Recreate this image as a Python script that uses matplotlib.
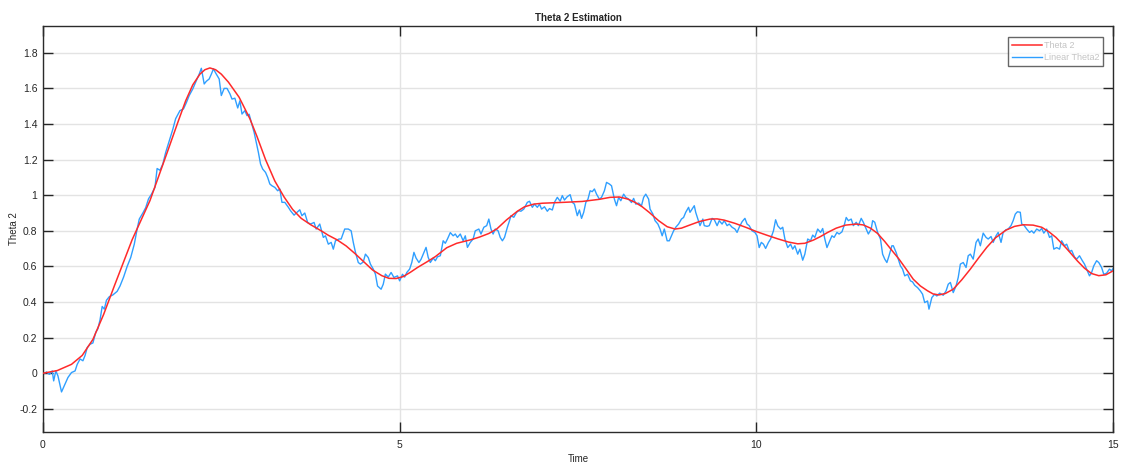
#!/usr/bin/env python3
"""Theta 2 estimation: nonlinear model vs. linearised model over time."""

import matplotlib

matplotlib.use("Agg")
import matplotlib.pyplot as plt

# Nonlinear response (smooth)
theta2_t = [0.0, 0.2, 0.4, 0.55, 0.7, 0.85, 1.0, 1.25, 1.5, 1.75, 1.9, 2.0,
            2.1, 2.2, 2.27, 2.34, 2.42, 2.5, 2.6, 2.75, 2.9, 3.0, 3.12, 3.25,
            3.38, 3.5, 3.62, 3.75, 3.9, 4.0, 4.12, 4.25, 4.38, 4.5, 4.62, 4.75,
            4.85, 4.95, 5.05, 5.15, 5.25, 5.38, 5.5, 5.66, 5.8, 6.0, 6.12, 6.25,
            6.36, 6.5, 6.65, 6.75, 6.88, 7.0, 7.3, 7.56, 7.8, 7.95, 8.08, 8.2,
            8.3, 8.4, 8.5, 8.63, 8.75, 8.86, 8.95, 9.05, 9.2, 9.35, 9.45, 9.55,
            9.7, 9.85, 10.0, 10.15, 10.3, 10.45, 10.58, 10.68, 10.8, 10.9, 11.0,
            11.12, 11.25, 11.4, 11.5, 11.6, 11.7, 11.8, 11.9, 12.0, 12.1, 12.2,
            12.3, 12.4, 12.48, 12.56, 12.65, 12.76, 12.88, 13.0, 13.12, 13.23,
            13.35, 13.5, 13.62, 13.74, 13.88, 14.0, 14.1, 14.2, 14.35, 14.5,
            14.6, 14.7, 14.8, 14.9, 15.0]
theta2_v = [0.0, 0.015, 0.05, 0.1, 0.19, 0.33, 0.49, 0.75, 0.97, 1.25, 1.42, 1.53,
            1.62, 1.68, 1.705, 1.715, 1.705, 1.68, 1.635, 1.55, 1.43, 1.33, 1.2, 1.08,
            0.99, 0.92, 0.87, 0.835, 0.8, 0.775, 0.75, 0.715, 0.67, 0.625, 0.58, 0.548,
            0.533, 0.532, 0.543, 0.567, 0.594, 0.625, 0.655, 0.705, 0.73, 0.75, 0.765, 0.785,
            0.81, 0.862, 0.91, 0.935, 0.95, 0.955, 0.96, 0.965, 0.977, 0.988, 0.99, 0.978,
            0.96, 0.935, 0.903, 0.857, 0.823, 0.81, 0.815, 0.83, 0.852, 0.866, 0.867, 0.86,
            0.842, 0.82, 0.796, 0.775, 0.755, 0.737, 0.727, 0.73, 0.748, 0.768, 0.791,
            0.815, 0.832, 0.838, 0.833, 0.815, 0.785, 0.74, 0.69, 0.641, 0.585, 0.528,
            0.49, 0.463, 0.445, 0.44, 0.448, 0.472, 0.525, 0.585, 0.65, 0.707,
            0.76, 0.804, 0.825, 0.834, 0.832, 0.82, 0.795, 0.763, 0.7, 0.631,
            0.59, 0.56, 0.548, 0.553, 0.575]

# Linearised estimate (noisy)
linear_t = [0.0, 0.05, 0.09, 0.13, 0.15, 0.18, 0.21, 0.26, 0.31, 0.35, 0.4, 0.45,
            0.48, 0.52, 0.56, 0.59, 0.62, 0.66, 0.7, 0.74, 0.77, 0.8, 0.83, 0.86,
            0.89, 0.93, 0.98, 1.04, 1.08, 1.13, 1.18, 1.23, 1.28, 1.32, 1.35, 1.4,
            1.44, 1.48, 1.52, 1.57, 1.6, 1.64, 1.68, 1.72, 1.77, 1.82, 1.86, 1.92,
            1.97, 2.01, 2.05, 2.1, 2.15, 2.19, 2.22, 2.26, 2.29, 2.33, 2.36, 2.39,
            2.42, 2.47, 2.5, 2.54, 2.58, 2.62, 2.65, 2.69, 2.73, 2.76, 2.79, 2.83,
            2.86, 2.89, 2.92, 2.96, 2.99, 3.02, 3.05, 3.08, 3.12, 3.15, 3.18, 3.21,
            3.25, 3.29, 3.32, 3.35, 3.39, 3.44, 3.47, 3.52, 3.55, 3.6, 3.63, 3.67,
            3.71, 3.75, 3.8, 3.83, 3.88, 3.93, 3.96, 4.0, 4.04, 4.07, 4.1, 4.15,
            4.18, 4.23, 4.28, 4.32, 4.35, 4.38, 4.42, 4.45, 4.49, 4.52, 4.56, 4.59,
            4.63, 4.66, 4.69, 4.74, 4.77, 4.8, 4.84, 4.88, 4.92, 4.97, 5.0, 5.04,
            5.07, 5.1, 5.14, 5.17, 5.2, 5.23, 5.27, 5.3, 5.34, 5.37, 5.4, 5.43,
            5.47, 5.5, 5.53, 5.57, 5.61, 5.64, 5.67, 5.71, 5.75, 5.78, 5.81, 5.85,
            5.89, 5.92, 5.95, 5.99, 6.03, 6.06, 6.11, 6.14, 6.18, 6.22, 6.25, 6.28,
            6.31, 6.34, 6.38, 6.41, 6.44, 6.47, 6.51, 6.54, 6.56, 6.6, 6.64, 6.67,
            6.7, 6.74, 6.79, 6.82, 6.86, 6.89, 6.93, 6.96, 6.99, 7.03, 7.07, 7.1,
            7.14, 7.17, 7.21, 7.25, 7.28, 7.31, 7.35, 7.39, 7.42, 7.45, 7.49, 7.52,
            7.55, 7.58, 7.61, 7.64, 7.67, 7.7, 7.73, 7.76, 7.8, 7.83, 7.87, 7.9,
            7.94, 7.97, 8.01, 8.04, 8.07, 8.1, 8.14, 8.17, 8.21, 8.25, 8.28, 8.31,
            8.35, 8.39, 8.42, 8.45, 8.49, 8.51, 8.55, 8.58, 8.62, 8.65, 8.68, 8.71,
            8.75, 8.78, 8.81, 8.84, 8.87, 8.91, 8.95, 8.98, 9.01, 9.05, 9.07, 9.1,
            9.13, 9.15, 9.18, 9.21, 9.25, 9.27, 9.31, 9.34, 9.38, 9.41, 9.45, 9.48,
            9.52, 9.55, 9.59, 9.62, 9.66, 9.7, 9.73, 9.76, 9.8, 9.84, 9.87, 9.9,
            9.94, 9.98, 10.01, 10.04, 10.07, 10.1, 10.13, 10.17, 10.2, 10.24, 10.27,
            10.3, 10.34, 10.37, 10.4, 10.44, 10.48, 10.51, 10.54, 10.58, 10.61,
            10.65, 10.68, 10.72, 10.76, 10.79, 10.82, 10.86, 10.9, 10.93, 10.96,
            10.99, 11.02, 11.06, 11.09, 11.13, 11.16, 11.2, 11.23, 11.26, 11.29,
            11.33, 11.36, 11.4, 11.43, 11.47, 11.5, 11.54, 11.57, 11.61, 11.63,
            11.66, 11.7, 11.74, 11.77, 11.8, 11.83, 11.86, 11.9, 11.92, 11.96,
            11.99, 12.02, 12.05, 12.08, 12.12, 12.16, 12.19, 12.22, 12.26, 12.3,
            12.33, 12.36, 12.4, 12.42, 12.46, 12.5, 12.53, 12.57, 12.62, 12.66,
            12.69, 12.72, 12.76, 12.8, 12.83, 12.86, 12.9, 12.94, 12.97, 13.0,
            13.04, 13.08, 13.11, 13.14, 13.18, 13.22, 13.25, 13.29, 13.32, 13.36,
            13.39, 13.43, 13.46, 13.5, 13.53, 13.57, 13.6, 13.63, 13.66, 13.7,
            13.72, 13.75, 13.79, 13.83, 13.86, 13.89, 13.93, 13.97, 14.0, 14.03,
            14.07, 14.11, 14.14, 14.17, 14.21, 14.25, 14.28, 14.32, 14.35, 14.39,
            14.42, 14.46, 14.49, 14.53, 14.57, 14.6, 14.63, 14.67, 14.7, 14.73,
            14.77, 14.8, 14.84, 14.87, 14.91, 14.95, 14.98, 15.0]
linear_v = [-0.005, 0.007, -0.006, 0.013, -0.043, 0.013, -0.015, -0.105, -0.06, -0.024, 0.004, 0.013,
            0.05, 0.08, 0.07, 0.1, 0.144, 0.163, 0.17, 0.23, 0.25, 0.3, 0.375, 0.36,
            0.41, 0.43, 0.44, 0.46, 0.49, 0.54, 0.6, 0.65, 0.725, 0.81, 0.866, 0.9,
            0.93, 0.98, 1.005, 1.044, 1.15, 1.14, 1.175, 1.24, 1.306, 1.37, 1.43, 1.475,
            1.485, 1.52, 1.56, 1.597, 1.644, 1.68, 1.713, 1.625, 1.64, 1.653, 1.68, 1.71,
            1.687, 1.653, 1.56, 1.6, 1.6, 1.57, 1.54, 1.545, 1.49, 1.53, 1.456, 1.475,
            1.447, 1.455, 1.41, 1.353, 1.297, 1.24, 1.175, 1.147, 1.128, 1.1, 1.063, 1.053,
            1.044, 1.025, 1.035, 0.96, 0.96, 0.932, 0.913, 0.888, 0.9, 0.918, 0.885, 0.9,
            0.847, 0.838, 0.847, 0.81, 0.838, 0.763, 0.772, 0.725, 0.735, 0.697, 0.744, 0.754,
            0.754, 0.81, 0.81, 0.8, 0.735, 0.68, 0.622, 0.613, 0.625, 0.669, 0.65, 0.613,
            0.585, 0.557, 0.49, 0.472, 0.5, 0.557, 0.54, 0.566, 0.538, 0.547, 0.519, 0.556,
            0.54, 0.566, 0.585, 0.622, 0.679, 0.647, 0.622, 0.64, 0.679, 0.707, 0.651, 0.622,
            0.647, 0.632, 0.654, 0.66, 0.744, 0.73, 0.754, 0.79, 0.772, 0.782, 0.763, 0.782,
            0.744, 0.772, 0.707, 0.735, 0.754, 0.8, 0.81, 0.782, 0.82, 0.829, 0.866, 0.81,
            0.782, 0.81, 0.8, 0.763, 0.744, 0.763, 0.82, 0.857, 0.885, 0.876, 0.904, 0.913,
            0.91, 0.922, 0.96, 0.966, 0.932, 0.95, 0.932, 0.95, 0.922, 0.935, 0.91, 0.925,
            0.917, 0.96, 0.988, 0.966, 0.998, 0.973, 0.992, 1.003, 0.96, 0.95, 0.885, 0.917,
            0.87, 0.904, 0.96, 0.978, 1.025, 1.02, 1.035, 1.006, 0.978, 0.988, 1.025, 1.072,
            1.063, 1.053, 0.978, 0.941, 0.988, 0.969, 1.006, 0.988, 0.978, 0.959, 0.982, 0.95,
            0.956, 0.941, 0.988, 1.006, 0.978, 0.922, 0.894, 0.857, 0.838, 0.81, 0.772, 0.81,
            0.744, 0.744, 0.772, 0.8, 0.82, 0.838, 0.866, 0.875, 0.904, 0.932, 0.904, 0.922,
            0.941, 0.904, 0.866, 0.829, 0.866, 0.829, 0.825, 0.829, 0.87, 0.863, 0.829, 0.857,
            0.838, 0.857, 0.829, 0.838, 0.82, 0.81, 0.791, 0.82, 0.851, 0.87, 0.838, 0.829,
            0.8, 0.791, 0.772, 0.706, 0.735, 0.725, 0.701, 0.735, 0.754, 0.8, 0.862,
            0.828, 0.81, 0.82, 0.754, 0.706, 0.725, 0.697, 0.716, 0.669, 0.697,
            0.635, 0.669, 0.754, 0.744, 0.776, 0.763, 0.81, 0.791, 0.813, 0.754,
            0.706, 0.735, 0.772, 0.763, 0.791, 0.782, 0.794, 0.829, 0.875, 0.857,
            0.866, 0.829, 0.848, 0.829, 0.87, 0.848, 0.81, 0.782, 0.81, 0.857,
            0.848, 0.791, 0.754, 0.669, 0.641, 0.622, 0.66, 0.716, 0.716, 0.678,
            0.641, 0.603, 0.585, 0.547, 0.556, 0.519, 0.513, 0.494, 0.481, 0.462,
            0.444, 0.397, 0.406, 0.36, 0.425, 0.444, 0.434, 0.45, 0.438, 0.463,
            0.5, 0.51, 0.453, 0.491, 0.538, 0.613, 0.622, 0.594, 0.66, 0.669,
            0.641, 0.735, 0.754, 0.716, 0.787, 0.763, 0.754, 0.768, 0.735, 0.772,
            0.791, 0.735, 0.791, 0.806, 0.81, 0.829, 0.857, 0.894, 0.907, 0.904,
            0.838, 0.832, 0.81, 0.791, 0.8, 0.787, 0.81, 0.8, 0.813, 0.787,
            0.81, 0.763, 0.772, 0.697, 0.706, 0.697, 0.744, 0.716, 0.725, 0.684,
            0.69, 0.653, 0.641, 0.66, 0.632, 0.613, 0.585, 0.547, 0.566, 0.603,
            0.632, 0.622, 0.594, 0.556, 0.562, 0.585, 0.575, 0.588]

x_ticks = [0, 5, 10, 15]
y_ticks = [-0.2, 0, 0.2, 0.4, 0.6, 0.8, 1.0, 1.2, 1.4, 1.6, 1.8]
y_tick_labels = ["-0.2", "0", "0.2", "0.4", "0.6", "0.8", "1", "1.2", "1.4", "1.6", "1.8"]

RED = "#ff2a2a"
BLUE = "#2f9fff"
TEXT = "#262626"

plt.rcParams.update(
    {
        "font.family": ["Liberation Sans", "DejaVu Sans"],
        "font.size": 7.5,
        "axes.linewidth": 1.0,
    }
)

fig = plt.figure(figsize=(11.22, 4.66), dpi=100)
ax = fig.add_axes([0.0383, 0.073, 0.9537, 0.871])

ax.plot(theta2_t, theta2_v, color=RED, linewidth=1.1, label="Theta 2", zorder=3)
ax.plot(linear_t, linear_v, color=BLUE, linewidth=1.0, label="Linear Theta2", zorder=2)

ax.set_xlim(0, 15)
ax.set_ylim(-0.33, 1.95)
ax.set_xticks(x_ticks)
ax.set_xticklabels([str(t) for t in x_ticks])
ax.set_yticks(y_ticks)
ax.set_yticklabels(y_tick_labels)

ax.grid(True, color="#e3e3e3", linewidth=1.0)
ax.set_axisbelow(True)
ax.tick_params(direction="in", length=7, width=1.0, colors=TEXT,
               top=True, right=True, labelsize=7.5, pad=4)
ax.tick_params(axis="x", pad=6)
for side in ("left", "bottom", "top", "right"):
    ax.spines[side].set_color("#2b2b2b")

ax.set_title("Theta 2 Estimation", fontsize=7, fontweight="bold", color=TEXT, pad=3.5)
ax.set_xlabel("Time", fontsize=7, color=TEXT, labelpad=3)
ax.set_ylabel("Theta 2", fontsize=7, color=TEXT, labelpad=0)

leg = ax.legend(
    loc="upper right",
    bbox_to_anchor=(0.9907, 0.973),
    fontsize=6.5,
    frameon=True,
    fancybox=False,
    borderpad=0.4,
    handlelength=3.3,
    handletextpad=0.25,
    labelspacing=0.4,
    borderaxespad=0.0,
)
leg.get_frame().set_edgecolor("#404040")
leg.get_frame().set_linewidth(1.0)
for text in leg.get_texts():
    text.set_color("#c4c4c4")

fig.savefig("out.png", dpi=100, facecolor="white")
